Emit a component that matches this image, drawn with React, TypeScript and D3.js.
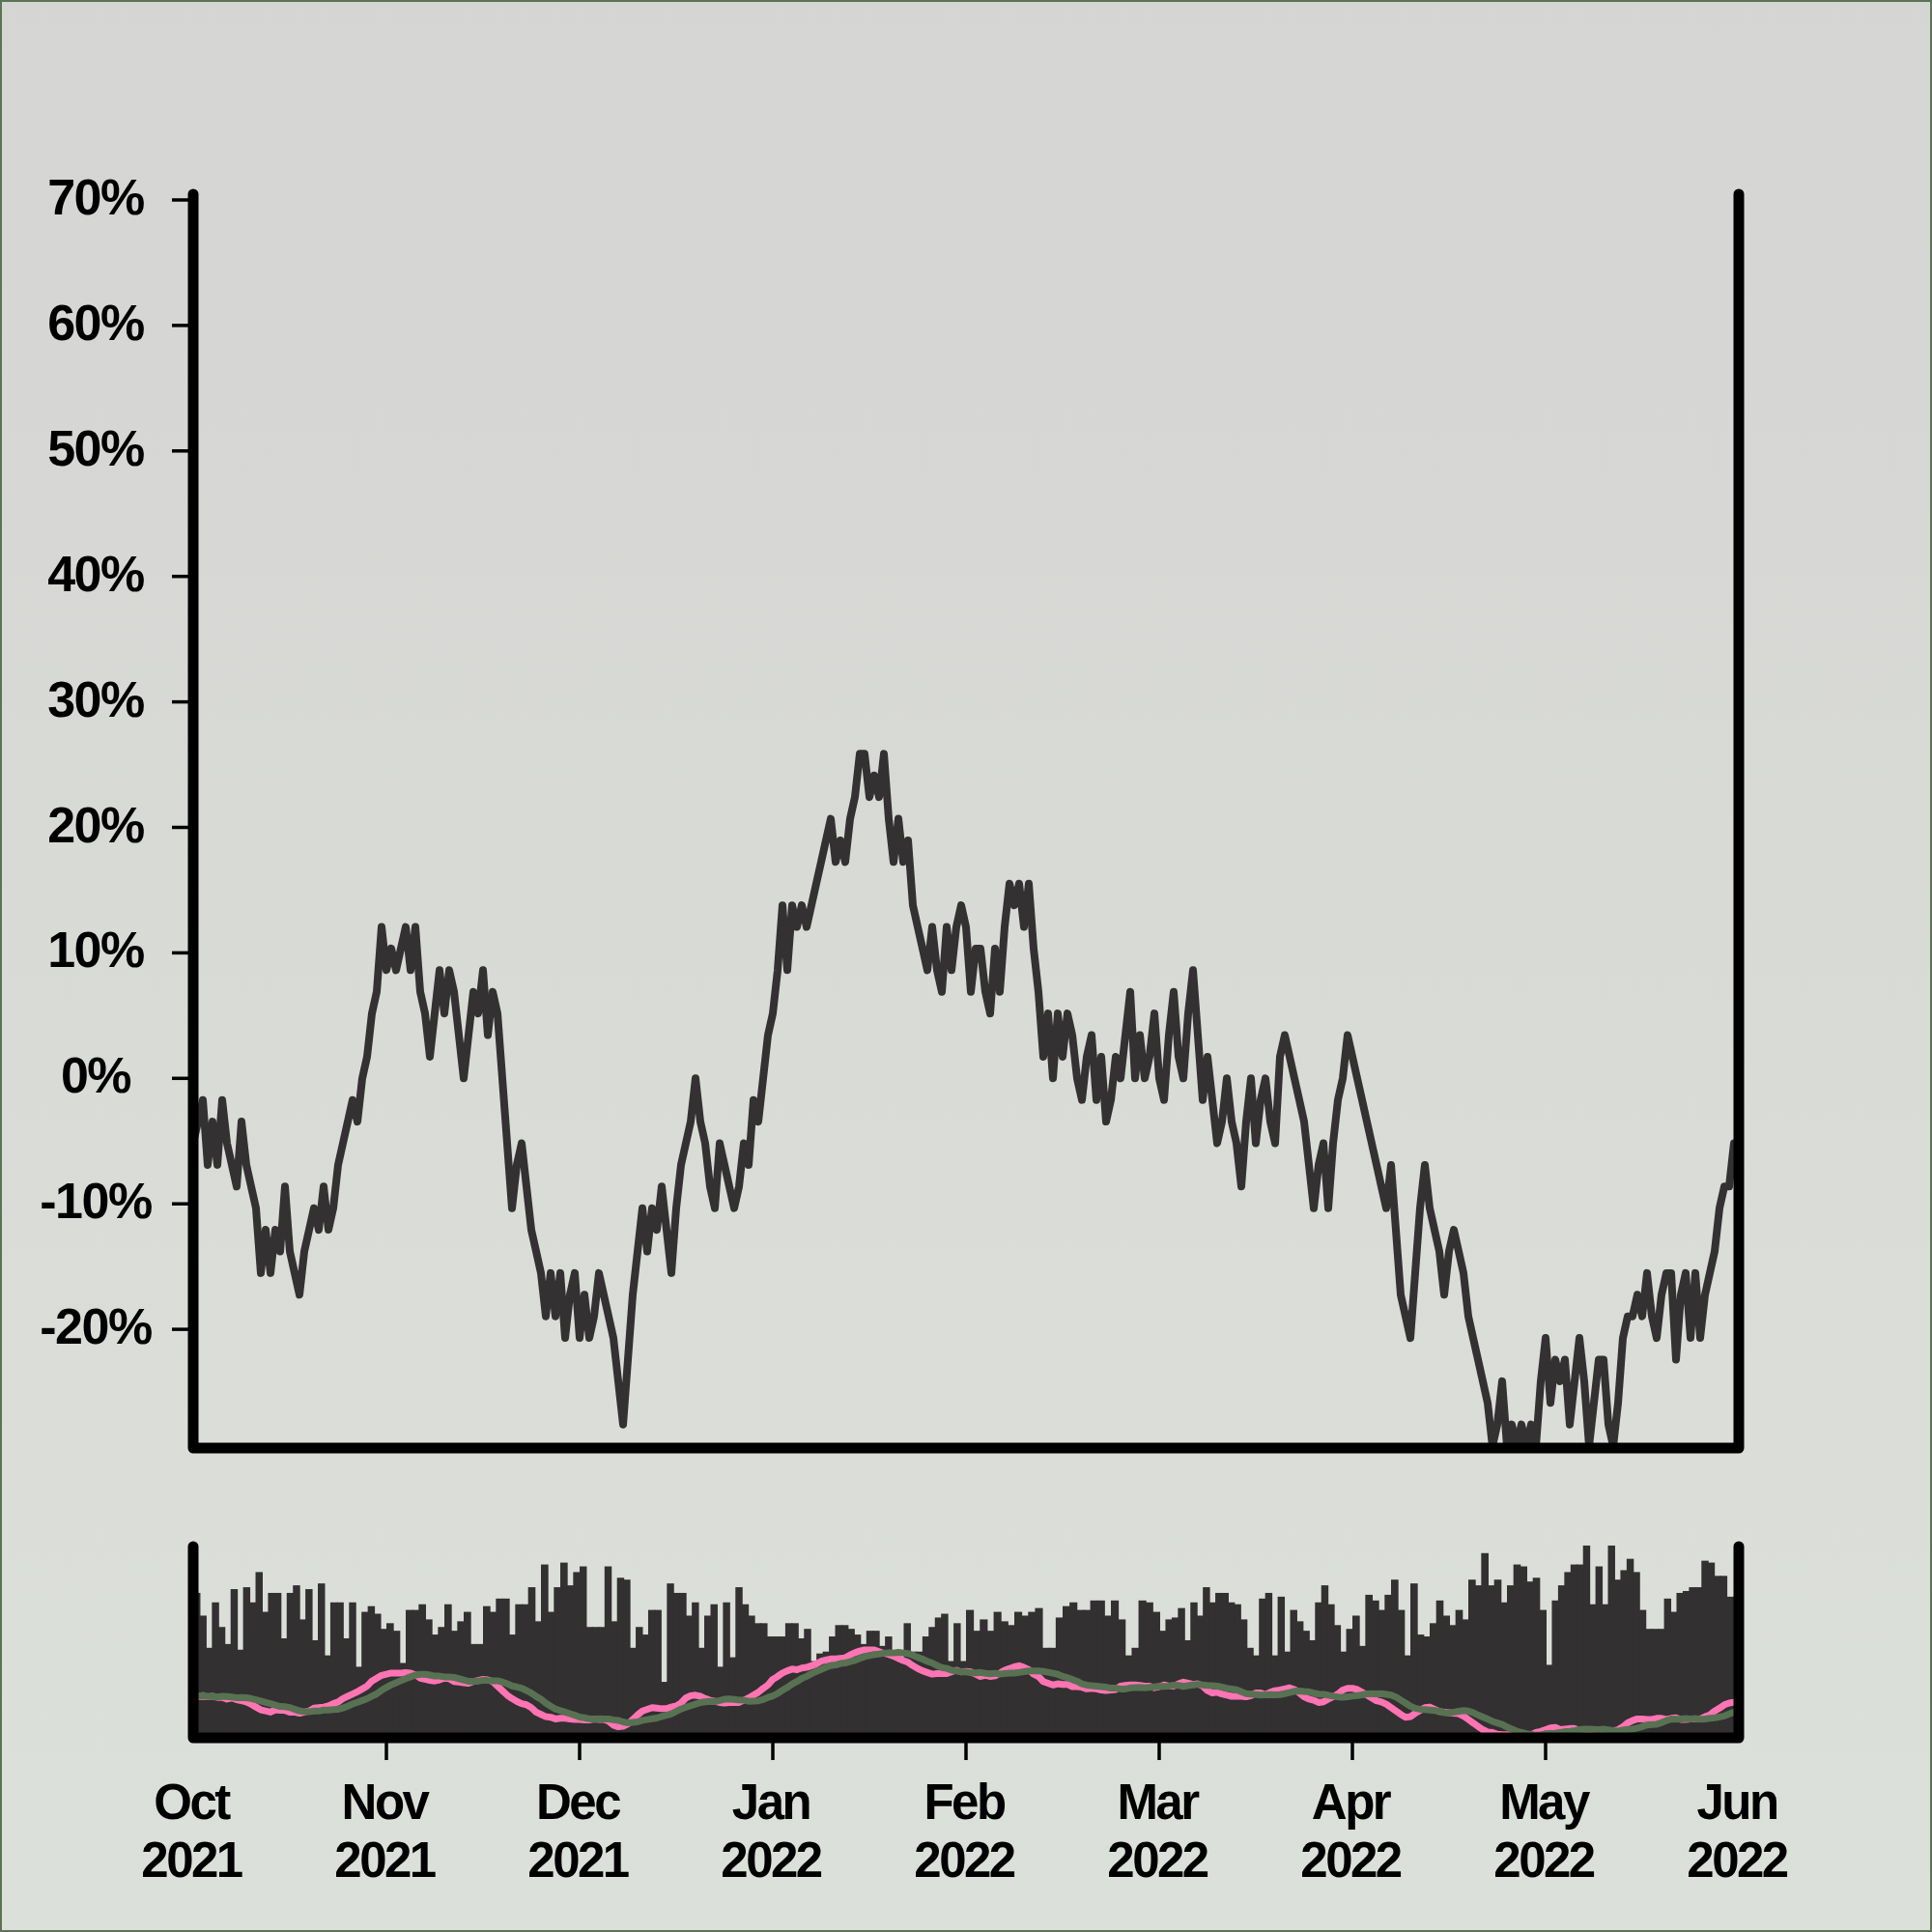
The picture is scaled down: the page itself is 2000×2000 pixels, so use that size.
import React from "react";
import * as d3 from "d3";

const MONTH_LABELS = ["Oct", "Nov", "Dec", "Jan", "Feb", "Mar", "Apr", "May", "Jun"];
const YEAR_LABELS = ["2021", "2021", "2021", "2022", "2022", "2022", "2022", "2022", "2022"];
const MONTH_DAYS = [31, 30, 31, 31, 28, 31, 30, 31];
const Y_TICKS = [-20, -10, 0, 10, 20, 30, 40, 50, 60, 70];
const BASE_PRICE = 58;

// price series (base 58), 40 samples per month, Oct 2021 -> Jun 2022
const PRICE = [
  55, 56, 57, 54, 56, 54, 57, 55, 54, 53,
  56, 54, 53, 52, 49, 51, 49, 51, 50, 53,
  50, 49, 48, 50, 51, 52, 51, 53, 51, 52,
  54, 55, 56, 57, 56, 58, 59, 61, 62, 65,
  63, 64, 63, 64, 65, 63, 65, 62, 61, 59,
  61, 63, 61, 63, 62, 60, 58, 60, 62, 61,
  63, 60, 62, 61, 58, 55, 52, 54, 55, 53,
  51, 50, 49, 47, 49, 47, 49, 46, 48, 49,
  46, 48, 46, 47, 49, 48, 47, 46, 44, 42,
  45, 48, 50, 52, 50, 52, 51, 53, 51, 49,
  52, 54, 55, 56, 58, 56, 55, 53, 52, 55,
  54, 53, 52, 53, 55, 54, 57, 56, 58, 60,
  61, 63, 66, 63, 66, 65, 66, 65, 66, 67,
  68, 69, 70, 68, 69, 68, 70, 71, 73, 73,
  71, 72, 71, 73, 70, 68, 70, 68, 69, 66,
  65, 64, 63, 65, 63, 62, 65, 63, 65, 66,
  65, 62, 64, 64, 62, 61, 64, 62, 65, 67,
  66, 67, 65, 67, 64, 62, 59, 61, 58, 61,
  59, 61, 60, 58, 57, 59, 60, 57, 59, 56,
  57, 59, 58, 60, 62, 58, 60, 58, 59, 61,
  58, 57, 60, 62, 59, 58, 61, 63, 60, 57,
  59, 57, 55, 56, 58, 56, 55, 53, 56, 58,
  55, 57, 58, 56, 55, 59, 60, 59, 58, 57,
  56, 54, 52, 54, 55, 52, 55, 57, 58, 60,
  59, 58, 57, 56, 55, 54, 53, 52, 54, 51,
  48, 47, 46, 49, 52, 54, 52, 51, 50, 48,
  50, 51, 50, 49, 47, 46, 45, 44, 43, 41,
  42, 44, 41, 42, 41, 42, 41, 42, 41, 44,
  46, 43, 45, 44, 45, 42, 44, 46, 44, 41,
  43, 45, 45, 42, 41, 43, 46, 47, 47, 48,
  47, 49, 47, 46, 48, 49, 49, 45, 48, 49,
  46, 49, 46, 48, 49, 50, 52, 53, 53, 55,
  53,
];

// daily volume (arbitrary units)
const VOL_OCT = [74, 62, 45, 69, 56, 47, 76, 44, 77, 69, 85, 64, 74, 74, 50, 74, 78, 60, 76, 49, 79, 41, 69, 69, 50, 69, 35, 64, 67, 63, 55];
const VOL_NOV = [58, 54, 37, 65, 65, 68, 60, 52, 56, 68, 54, 59, 64, 47, 47, 67, 64, 71, 71, 52, 68, 68, 77, 59, 89, 64, 77, 90, 78, 85];
const VOL_DEC = [88, 56, 56, 56, 88, 59, 82, 81, 45, 56, 52, 65, 65, 27, 79, 74, 74, 62, 69, 45, 62, 68, 35, 69, 40, 77, 68, 62, 58, 58, 51];
const VOL_JAN = [51, 51, 58, 58, 50, 55, 38, 42, 43, 51, 57, 57, 55, 52, 47, 54, 54, 46, 51, 39, 39, 58, 43, 43, 51, 56, 61, 63, 38, 58, 38];
const VOL_FEB = [65, 54, 60, 54, 64, 59, 57, 64, 62, 64, 66, 45, 45, 61, 67, 69, 65, 65, 70, 70, 62, 70, 60, 41, 45, 70, 69, 64];
const VOL_MAR = [54, 60, 61, 66, 49, 69, 62, 77, 69, 74, 74, 69, 68, 60, 45, 41, 71, 74, 41, 72, 43, 65, 59, 54, 49, 69, 78, 68, 57, 43, 55];
const VOL_APR = [62, 46, 73, 70, 65, 73, 81, 65, 41, 79, 52, 51, 58, 70, 62, 57, 65, 60, 81, 78, 95, 78, 81, 69, 78, 89, 88, 80, 82, 65];
const VOL_MAY = [36, 70, 78, 85, 89, 89, 99, 68, 88, 68, 99, 81, 86, 92, 85, 65, 55, 55, 55, 71, 64, 74, 75, 77, 77, 91, 90, 83, 83, 72, 72];
const VOLUME_BY_MONTH = [VOL_OCT, VOL_NOV, VOL_DEC, VOL_JAN, VOL_FEB, VOL_MAR, VOL_APR, VOL_MAY];

const FONT = "'Liberation Sans', Arial, Helvetica, sans-serif";

export default function App() {
  const W = 2000;
  const H = 2000;
  const x = d3.scaleLinear().domain([0, MONTH_DAYS.length]).range([200, 1800]);
  const y = d3.scaleLinear().domain([-29.46, 70]).range([1499, 207]);
  const yOverlay = d3.scaleLinear().domain([-29.46, 70]).range([1799, 1630]);
  const yVol = d3.scaleLinear().domain([0, 100]).range([1794, 1598]);

  const pct = PRICE.map((p) => (p / BASE_PRICE - 1) * 100);
  const perMonth = (PRICE.length - 1) / MONTH_DAYS.length;
  const px = (i: number) => x(i / perMonth);

  const rolling = (arr: number[], back: number, fwd: number) =>
    arr.map((_, i) => d3.mean(arr.slice(Math.max(0, i - back), Math.min(arr.length, i + fwd + 1))) as number);
  const fast = rolling(pct, 2, 2);
  const slow = rolling(pct, 10, 0);

  const priceLine = d3.line<number>().x((_, i) => px(i)).y((d) => y(d));
  const overlayLine = d3.line<number>().x((_, i) => px(i)).y((d) => yOverlay(d));

  const bars: { x0: number; x1: number; v: number }[] = [];
  VOLUME_BY_MONTH.forEach((arr, m) =>
    arr.forEach((v, d) => {
      bars.push({ x0: x(m + d / MONTH_DAYS[m]), x1: x(m + (d + 1) / MONTH_DAYS[m]), v });
    })
  );

  const monthTicks = MONTH_LABELS.map((_, i) => i);
  const bottom = y(-29.46);

  return (
    <svg width={W} height={H} style={{ position: "absolute", left: 0, top: 0, display: "block" }}>
      <defs>
        <linearGradient id="bg" x1="0" y1="0" x2="0" y2="1">
          <stop offset="0" stopColor="#d5d5d3" />
          <stop offset="1" stopColor="#dce0da" />
        </linearGradient>
        <clipPath id="mainClip">
          <rect x={200} y={150} width={1600} height={1349} />
        </clipPath>
        <clipPath id="volClip">
          <rect x={200} y={1590} width={1600} height={210} />
        </clipPath>
      </defs>
      <rect x={0} y={0} width={W} height={H} fill="url(#bg)" />
      <rect x={1} y={1} width={W - 2} height={H - 2} fill="none" stroke="#5b7355" strokeWidth={2} />

      {/* volume bars */}
      <g clipPath="url(#volClip)">
        {bars.map((b, i) => (
          <rect key={i} x={b.x0} y={yVol(b.v)} width={b.x1 - b.x0 + 1} height={yVol(0) - yVol(b.v) + 8} fill="#323031" />
        ))}
        <path d={overlayLine(fast) || ""} fill="none" stroke="#ff74b2" strokeWidth={7} strokeLinejoin="round" strokeLinecap="round" />
        <path d={overlayLine(slow) || ""} fill="none" stroke="#587152" strokeWidth={7} strokeLinejoin="round" strokeLinecap="round" />
      </g>

      {/* price line */}
      <g clipPath="url(#mainClip)">
        <path d={priceLine(pct) || ""} fill="none" stroke="#333132" strokeWidth={8} strokeLinejoin="round" strokeLinecap="round" />
      </g>

      {/* main frame */}
      <path d={`M200,201L200,${bottom}L1800,${bottom}L1800,201`} fill="none" stroke="#000" strokeWidth={11} strokeLinejoin="round" strokeLinecap="round" />
      {/* volume frame */}
      <path d="M200,1601L200,1799L1800,1799L1800,1601" fill="none" stroke="#000" strokeWidth={11} strokeLinejoin="round" strokeLinecap="round" />

      {/* y ticks */}
      {Y_TICKS.map((t) => (
        <g key={t}>
          <line x1={178} x2={198} y1={y(t)} y2={y(t)} stroke="#000" strokeWidth={3.5} />
          <text x={99} y={y(t) + 15} textAnchor="middle" fontFamily={FONT} fontWeight="bold" fontSize={52} letterSpacing={-1.5} fill="#000">
            {`${t}%`}
          </text>
        </g>
      ))}

      {/* x ticks */}
      {monthTicks.map((m) => (
        <g key={m}>
          {m > 0 && m < monthTicks.length - 1 ? (
            <line x1={x(m)} x2={x(m)} y1={1800} y2={1822} stroke="#000" strokeWidth={3.5} />
          ) : null}
          <text x={x(m) - 2} y={1883} textAnchor="middle" fontFamily={FONT} fontWeight="bold" fontSize={51} letterSpacing={-2.5} fill="#000">
            {MONTH_LABELS[m]}
          </text>
          <text x={x(m) - 2} y={1943} textAnchor="middle" fontFamily={FONT} fontWeight="bold" fontSize={51} letterSpacing={-2.5} fill="#000">
            {YEAR_LABELS[m]}
          </text>
        </g>
      ))}
    </svg>
  );
}
